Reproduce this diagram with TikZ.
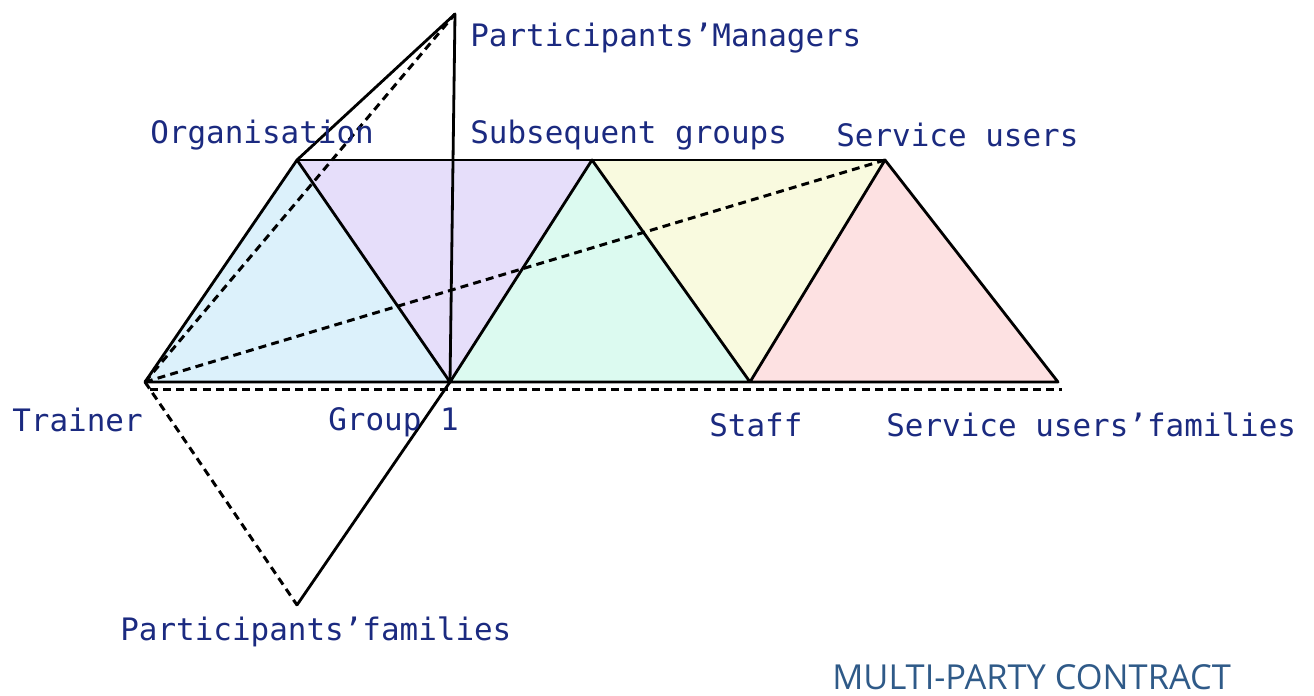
\documentclass[tikz,border=0pt]{standalone}
\usepackage{fontspec}
\usepackage{xcolor}
\usepackage{tikz}
\usetikzlibrary{positioning,calc}
\newfontfamily\labelfont{DejaVu Sans Mono}
\newfontfamily\titlefont{Open Sans}
\definecolor{labelblue}{HTML}{1B2A80}
\definecolor{titleblue}{HTML}{2F5A88}
\definecolor{fillblue}{HTML}{DCF1FB}
\definecolor{filllav}{HTML}{E6DEFA}
\definecolor{fillmint}{HTML}{DCFAF0}
\definecolor{fillyellow}{HTML}{F9FADF}
\definecolor{fillpink}{HTML}{FDE1E2}
\tikzset{
    party/.style={anchor=west, inner sep=0pt, text=labelblue, font=\labelfont\fontsize{17.6}{20}\selectfont},
    solidline/.style={line width=1.6pt, line join=round, line cap=round},
    dashline/.style={line width=1.7pt, dash pattern=on 4.5pt off 3pt}
}

\begin{document}
\begin{tikzpicture}[x=0.2mm, y=-0.2mm]
    \useasboundingbox (0,0) rectangle (1314,695);
    % vertices
    \coordinate (trainer) at (145,382);
    \coordinate (org) at (297,160);
    \coordinate (group) at (450,382);
    \coordinate (subseq) at (592,160);
    \coordinate (staff) at (750,382);
    \coordinate (users) at (885,160);
    \coordinate (usersfam) at (1058,382);
    \coordinate (managers) at (455,14);
    \coordinate (partfam) at (297,605);
    \coordinate (dashstart) at (150,389);
    \coordinate (dashend) at (1062,389);
    % triangles
    \fill[fillblue] (trainer) -- (org) -- (group) -- cycle;
    \fill[filllav] (org) -- (group) -- (subseq) -- cycle;
    \fill[fillmint] (group) -- (subseq) -- (staff) -- cycle;
    \fill[fillyellow] (subseq) -- (staff) -- (users) -- cycle;
    \fill[fillpink] (staff) -- (users) -- (usersfam) -- cycle;
    % dashed links
    \draw[dashline] (trainer) -- (managers);
    \draw[dashline] (trainer) -- (users);
    \draw[dashline] (trainer) -- (partfam);
    \draw[dashline] (dashstart) -- (dashend);
    % solid links
    \draw[solidline] (trainer) -- (org) -- (group) -- (subseq) -- (staff) -- (users) -- (usersfam) -- cycle;
    \draw[solidline] (org) -- (users);
    \draw[solidline] (org) -- (managers) -- (group);
    \draw[solidline] (partfam) -- (group);
    % labels
    \node[party] (lmanagers) at (470,38) {Participants’Managers};
    \node[party] (lorg) at (150,135) {Organisation};
    \node[party] (lsubseq) at (470,135) {Subsequent groups};
    \node[party] (lusers) at (836,135) {Service users};
    \node[party] (ltrainer) at (12,420) {Trainer};
    \node[party] (lgroup) at (328,422) {Group 1};
    \node[party] (lstaff) at (709,425) {Staff};
    \node[party] (lusersfam) at (886,425) {Service users’families};
    \node[party] (lpartfam) at (120,632) {Participants’families};
    \node[anchor=base west, inner sep=0pt, text=titleblue, font=\titlefont\fontsize{19.6}{24}\selectfont] (title) at (832,689) {MULTI-PARTY CONTRACT};
\end{tikzpicture}
\end{document}
